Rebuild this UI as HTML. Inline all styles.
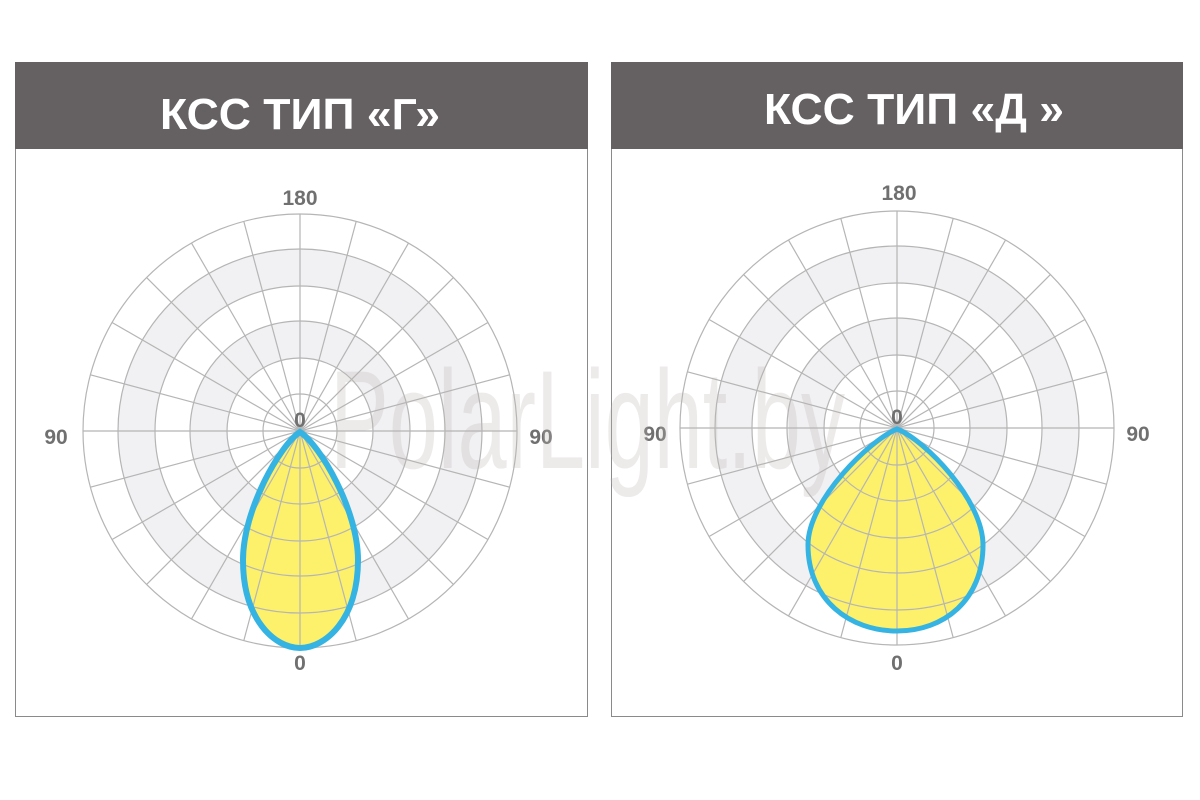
<!DOCTYPE html>
<html><head><meta charset="utf-8"><style>
html,body{margin:0;padding:0;background:#fff;width:1200px;height:800px;overflow:hidden}
</style></head><body>
<svg width="1200" height="800" viewBox="0 0 1200 800" xmlns="http://www.w3.org/2000/svg" font-family="Liberation Sans, DejaVu Sans, sans-serif">
<defs>
<g id="grid">
  <circle r="217" fill="#fff"/>
  <circle r="182" fill="#f1f1f3"/>
  <circle r="145" fill="#fff"/>
  <circle r="110" fill="#f1f1f3"/>
  <circle r="73" fill="#fff"/>
</g>
<g id="lines" stroke="#b5b5b5" stroke-width="1.2" fill="none">
  <circle r="217"/><circle r="182"/><circle r="145"/><circle r="110"/><circle r="73"/><circle r="37"/>
  <line x1="-217" y1="0" x2="217" y2="0"/>
  <line x1="0" y1="-217" x2="0" y2="217"/>
  <line x1="-209.6" y1="-56.2" x2="209.6" y2="56.2"/>
  <line x1="-209.6" y1="56.2" x2="209.6" y2="-56.2"/>
  <line x1="-187.9" y1="-108.5" x2="187.9" y2="108.5"/>
  <line x1="-187.9" y1="108.5" x2="187.9" y2="-108.5"/>
  <line x1="-153.4" y1="-153.4" x2="153.4" y2="153.4"/>
  <line x1="-153.4" y1="153.4" x2="153.4" y2="-153.4"/>
  <line x1="-108.5" y1="-187.9" x2="108.5" y2="187.9"/>
  <line x1="-108.5" y1="187.9" x2="108.5" y2="-187.9"/>
  <line x1="-56.2" y1="-209.6" x2="56.2" y2="209.6"/>
  <line x1="-56.2" y1="209.6" x2="56.2" y2="-209.6"/>
</g>
</defs>

<!-- Left panel -->
<rect x="15.5" y="62.5" width="572" height="654" fill="#fff" stroke="#8a8a8a"/>
<rect x="15" y="62" width="573" height="87" fill="#656163"/>
<text x="300" y="129" text-anchor="middle" fill="#fff" font-size="44" font-weight="bold" textLength="280" lengthAdjust="spacingAndGlyphs">КСС ТИП «Г»</text>

<g transform="translate(300,431)">
  <use href="#grid"/>
  <path d="M0,1 C-20,14 -57,79 -57,129 C-57,189 -25,217 0,217 C25,217 58,189 58,129 C58,79 20,14 0,1 Z" fill="#fdf16b"/>
  <use href="#lines"/>
  <path d="M0,1 C-20,14 -57,79 -57,129 C-57,189 -25,217 0,217 C25,217 58,189 58,129 C58,79 20,14 0,1 Z" fill="none" stroke="#35b3e2" stroke-width="6"/>
</g>
<g fill="#707070" font-size="21" font-weight="bold" text-anchor="middle">
  <text x="300" y="205">180</text>
  <text x="56" y="444">90</text>
  <text x="541" y="444">90</text>
  <text x="300" y="427">0</text>
  <text x="300" y="670">0</text>
</g>

<!-- Right panel -->
<rect x="611.5" y="62.5" width="571" height="654" fill="#fff" stroke="#8a8a8a"/>
<rect x="611" y="62" width="572" height="87" fill="#656163"/>
<text x="914" y="124" text-anchor="middle" fill="#fff" font-size="44" font-weight="bold" textLength="300" lengthAdjust="spacingAndGlyphs">КСС ТИП «Д »</text>

<g transform="translate(897,428)">
  <use href="#grid"/>
  <path d="M0,1 C-27,12 -89,72 -89,117 C-89,172 -47,203 0,203 C47,203 86,172 86,117 C86,72 28,12 0,1 Z" fill="#fdf16b"/>
  <use href="#lines"/>
  <path d="M0,1 C-27,12 -89,72 -89,117 C-89,172 -47,203 0,203 C47,203 86,172 86,117 C86,72 28,12 0,1 Z" fill="none" stroke="#35b3e2" stroke-width="5"/>
</g>
<g fill="#707070" font-size="21" font-weight="bold" text-anchor="middle">
  <text x="899" y="200">180</text>
  <text x="655" y="441">90</text>
  <text x="1138" y="441">90</text>
  <text x="897" y="424">0</text>
  <text x="897" y="670">0</text>
</g>

<!-- watermark -->
<text x="330" y="468" font-size="140" fill="#bfb5b5" fill-opacity="0.28" textLength="515" lengthAdjust="spacingAndGlyphs" font-family="Liberation Sans Narrow, Liberation Sans, sans-serif">PolarLight.by</text>
</svg>
</body></html>
